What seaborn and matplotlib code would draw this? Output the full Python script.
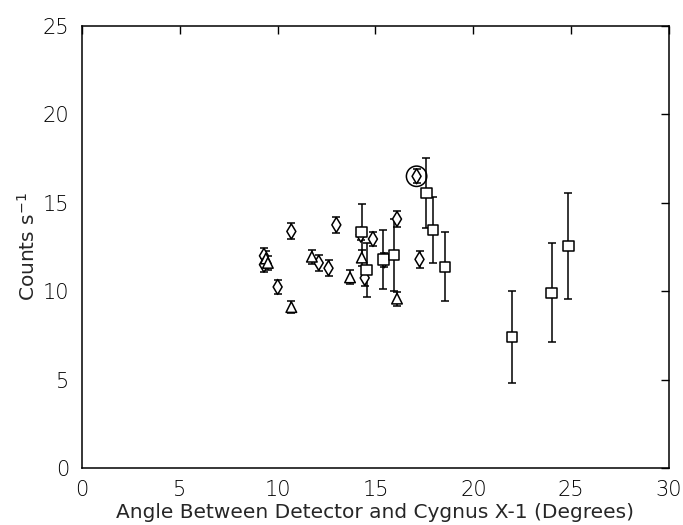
import numpy as np
import pandas as pd
import matplotlib
matplotlib.use("Agg")
import matplotlib.pyplot as plt
import seaborn as sns

# Detector series: angle to Cygnus X-1 (deg), count rate (counts/s), 1-sigma error
diamond_angle = [9.3, 9.3, 10.0, 10.7, 12.1, 12.6, 13.0, 14.25, 14.45, 14.87, 15.45, 16.1, 17.1, 17.25]
diamond_rate = [12.0, 11.5, 10.24, 13.38, 11.6, 11.3, 13.75, 13.2, 10.75, 12.95, 11.75, 14.08, 16.5, 11.8]
diamond_err = [0.45, 0.4, 0.4, 0.45, 0.45, 0.45, 0.45, 0.3, 0.45, 0.4, 0.4, 0.45, 0.4, 0.5]

triangle_angle = [9.4, 9.5, 10.7, 11.75, 13.7, 14.3, 16.1]
triangle_rate = [11.85, 11.6, 9.1, 11.95, 10.78, 11.9, 9.58]
triangle_err = [0.4, 0.4, 0.35, 0.4, 0.4, 0.45, 0.4]

square_angle = [14.3, 14.55, 15.4, 15.95, 17.6, 17.95, 18.55, 21.97, 24.0, 24.85]
square_rate = [13.35, 11.2, 11.8, 12.05, 15.55, 13.46, 11.37, 7.41, 9.9, 12.55]
square_err = [1.6, 1.55, 1.65, 2.05, 2.0, 1.85, 1.95, 2.6, 2.8, 3.0]

# Highlighted observation (circled)
circled_angle = [17.1]
circled_rate = [16.5]

x_ticks = [0, 5, 10, 15, 20, 25, 30]
y_ticks = [0, 5, 10, 15, 20, 25]

df = pd.concat([
    pd.DataFrame({"angle": diamond_angle, "rate": diamond_rate, "err": diamond_err, "kind": "diamond"}),
    pd.DataFrame({"angle": triangle_angle, "rate": triangle_rate, "err": triangle_err, "kind": "triangle"}),
    pd.DataFrame({"angle": square_angle, "rate": square_rate, "err": square_err, "kind": "square"}),
], ignore_index=True)

sns.set_style("white")
plt.rcParams["font.family"] = ["DejaVu Sans"]
plt.rcParams["font.weight"] = "light"
plt.rcParams["mathtext.default"] = "regular"

fig = plt.figure(figsize=(6.83, 5.25), dpi=100)
ax = fig.add_axes([0.120, 0.1086, 0.8595, 0.8419])

ax.errorbar(df["angle"], df["rate"], yerr=df["err"], fmt="none",
            ecolor="black", elinewidth=1.1, capsize=3, capthick=1.1, zorder=2)

sns.scatterplot(data=df, x="angle", y="rate", style="kind",
                markers={"diamond": "d", "triangle": "^", "square": "s"},
                s=58, color="white", edgecolor="black",
                linewidth=1.1, legend=False, ax=ax, zorder=3)

ax.scatter(circled_angle, circled_rate, s=215, facecolor="none",
           edgecolor="black", linewidth=1.1, zorder=4)

ax.set_xlim(0, 30)
ax.set_ylim(0, 25)
ax.set_xticks(x_ticks)
ax.set_yticks(y_ticks)
ax.set_xticklabels([str(t) for t in x_ticks])
ax.set_yticklabels([str(t) for t in y_ticks])
ax.tick_params(direction="in", length=6, width=1.0, top=True, right=True,
               labelsize=15, pad=9, colors="black")
for sp in ax.spines.values():
    sp.set_linewidth(1.1)
    sp.set_color("black")

ax.set_xlabel("Angle Between Detector and Cygnus X-1 (Degrees)", fontsize=14.5, labelpad=2)
ax.set_ylabel("Counts s$^{-1}$", fontsize=14.5, labelpad=3)

fig.savefig("out.png", dpi=100)
